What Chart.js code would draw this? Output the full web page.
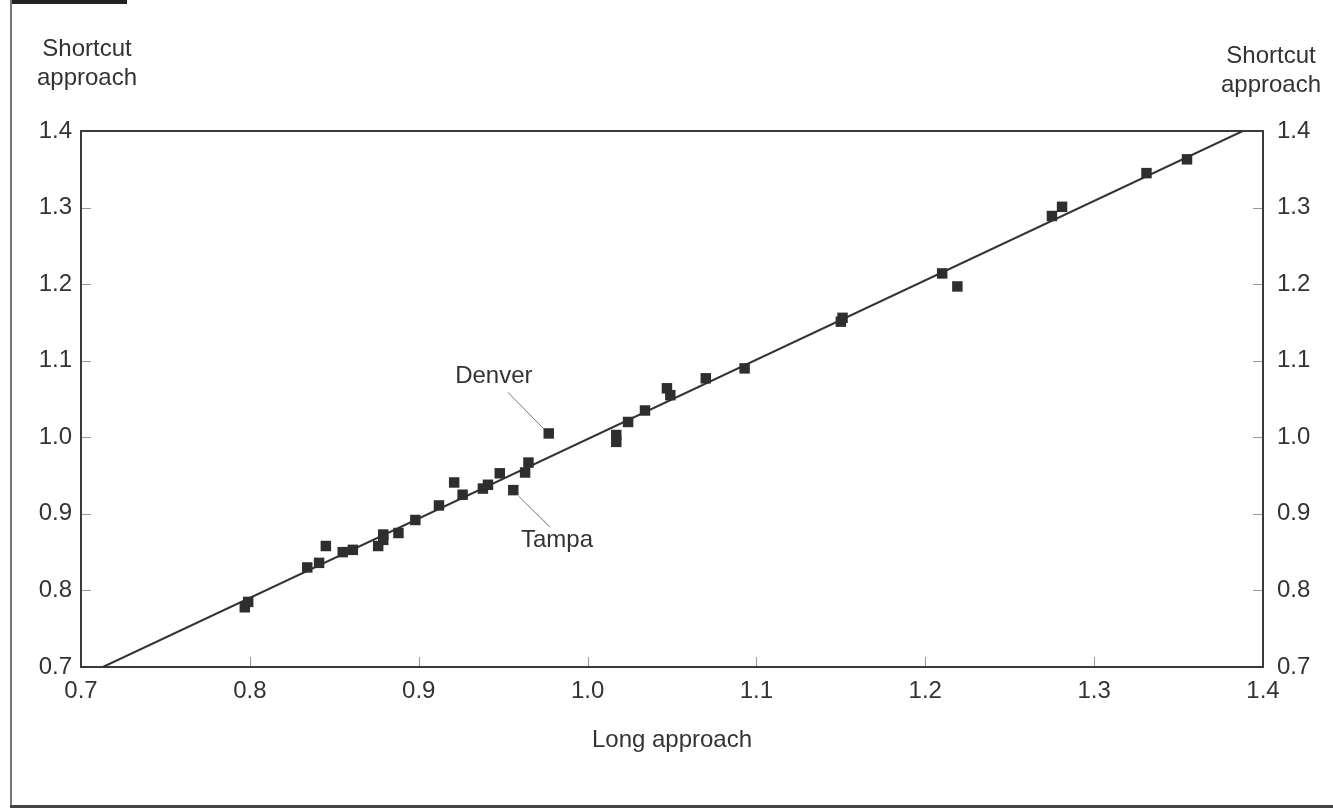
<!DOCTYPE html>
<html>
<head>
<meta charset="utf-8">
<script src="https://cdn.jsdelivr.net/npm/chart.js@4.4.0/dist/chart.umd.min.js"></script>
<style>
  html, body { margin: 0; padding: 0; background: #fff; }
  #wrap { position: relative; width: 1333px; height: 809px; overflow: hidden; background: #fff; font-family: "Liberation Sans", Arial, sans-serif; color: #333; }
  #chart { position: absolute; left: 0; top: 0; }
  .ytitle { position: absolute; font-size: 24px; line-height: 29px; text-align: center; color: #333; }
  #topbar { position: absolute; left: 11px; top: 0; width: 116px; height: 4px; background: #222; }
  #leftrule { position: absolute; left: 10px; top: 0; width: 2px; height: 807px; background: #777; }
  #bottomrule { position: absolute; left: 10px; top: 805px; width: 1323px; height: 3px; background: #444; }
</style>
</head>
<body>
<div id="wrap">
  <canvas id="chart" width="1333" height="809"></canvas>
  <div id="topbar"></div>
  <div id="leftrule"></div>
  <div id="bottomrule"></div>
  <div class="ytitle" style="left:27px; top:33px; width:120px;">Shortcut<br>approach</div>
  <div class="ytitle" style="left:1211px; top:40px; width:120px;">Shortcut<br>approach</div>
</div>
<script>
// ---- data ----
const longApproach = [0.797, 0.799, 0.834, 0.841, 0.845, 0.855, 0.861, 0.876, 0.879, 0.879,
  0.888, 0.898, 0.912, 0.921, 0.926, 0.938, 0.941, 0.948, 0.956, 0.963,
  0.965, 0.977, 1.017, 1.017, 1.024, 1.034, 1.047, 1.049, 1.070, 1.093,
  1.150, 1.151, 1.210, 1.219, 1.275, 1.281, 1.331, 1.355];
const shortcutApproach = [0.778, 0.785, 0.830, 0.836, 0.858, 0.850, 0.853, 0.858, 0.873, 0.866,
  0.875, 0.892, 0.911, 0.941, 0.925, 0.933, 0.938, 0.953, 0.931, 0.954,
  0.967, 1.005, 1.003, 0.994, 1.020, 1.035, 1.064, 1.055, 1.077, 1.090,
  1.151, 1.156, 1.214, 1.197, 1.289, 1.301, 1.345, 1.363];
const fitLineX = [0.713, 1.388];
const fitLineY = [0.700, 1.400];
const tickValues = [0.7, 0.8, 0.9, 1.0, 1.1, 1.2, 1.3, 1.4];
const calloutNames = ["Denver", "Tampa"];
const calloutLabelX = [0.9445, 0.9819];
const calloutLabelY = [1.080, 0.8657];
const leaderStartX = [0.9528, 0.9593];
const leaderStartY = [1.0588, 0.9229];
const leaderEndX = [0.9742, 0.9777];
const leaderEndY = [1.0106, 0.8826];

const FONT = "'Liberation Sans', Arial, sans-serif";
const INK = '#333';

const points = longApproach.map((x, i) => ({ x: x, y: shortcutApproach[i] }));
const fitLine = fitLineX.map((x, i) => ({ x: x, y: fitLineY[i] }));

const leaderSets = calloutNames.map((n, i) => ({
  type: 'line',
  label: n + ' leader',
  data: [{ x: leaderStartX[i], y: leaderStartY[i] }, { x: leaderEndX[i], y: leaderEndY[i] }],
  borderColor: '#777',
  borderWidth: 1,
  pointRadius: 0,
  fill: false,
  order: 3
}));

const frameAndTicks = {
  id: 'frameAndTicks',
  beforeDatasetsDraw(chart) {
    const { ctx, chartArea: a, scales } = chart;
    ctx.save();
    ctx.strokeStyle = '#999';
    ctx.lineWidth = 1;
    const TL = 10;
    tickValues.forEach(v => {
      if (v > 0.7 && v < 1.4) {
        const px = Math.round(scales.x.getPixelForValue(v)) + 0.5;
        ctx.beginPath(); ctx.moveTo(px, a.bottom); ctx.lineTo(px, a.bottom - TL); ctx.stroke();
        const py = Math.round(scales.y.getPixelForValue(v)) + 0.5;
        ctx.beginPath(); ctx.moveTo(a.left, py); ctx.lineTo(a.left + TL, py); ctx.stroke();
        const py2 = Math.round(scales.y2.getPixelForValue(v)) + 0.5;
        ctx.beginPath(); ctx.moveTo(a.right, py2); ctx.lineTo(a.right - TL, py2); ctx.stroke();
      }
    });
    ctx.strokeStyle = '#3a3a3a';
    ctx.lineWidth = 2;
    ctx.strokeRect(a.left, a.top, a.right - a.left, a.bottom - a.top);
    ctx.restore();
  },
  afterDatasetsDraw(chart) {
    const { ctx, scales } = chart;
    ctx.save();
    ctx.fillStyle = INK;
    ctx.font = '24px ' + FONT;
    ctx.textAlign = 'center';
    ctx.textBaseline = 'middle';
    calloutNames.forEach((n, i) => {
      ctx.fillText(n, scales.x.getPixelForValue(calloutLabelX[i]), scales.y.getPixelForValue(calloutLabelY[i]));
    });
    ctx.restore();
  }
};

const axisCommon = {
  type: 'linear',
  min: 0.7,
  max: 1.4,
  grid: { display: false, drawTicks: false, drawOnChartArea: false },
  border: { display: false },
};
const tickCommon = {
  stepSize: 0.1,
  color: INK,
  font: { family: FONT, size: 24 },
  callback: v => Number(v).toFixed(1)
};

new Chart(document.getElementById('chart'), {
  type: 'scatter',
  data: {
    datasets: [
      {
        label: 'Cities',
        data: points,
        pointStyle: 'rect',
        pointRadius: 7.4,
        pointHoverRadius: 7.4,
        backgroundColor: '#2e2e2e',
        borderColor: '#2e2e2e',
        borderWidth: 0,
        order: 1
      },
      {
        type: 'line',
        label: 'Fit',
        data: fitLine,
        borderColor: '#333',
        borderWidth: 2,
        pointRadius: 0,
        fill: false,
        order: 2
      },
      ...leaderSets
    ]
  },
  options: {
    responsive: false,
    animation: false,
    layout: { padding: { top: 131, left: 0, right: 0, bottom: 0 } },
    plugins: { legend: { display: false }, tooltip: { enabled: false }, title: { display: false } },
    scales: {
      x: Object.assign({}, axisCommon, {
        position: 'bottom',
        ticks: Object.assign({}, tickCommon, { padding: 10, maxRotation: 0, autoSkip: false }),
        title: { display: true, text: 'Long approach', color: INK, font: { family: FONT, size: 24 }, padding: { top: 0, bottom: 54 } },
        afterFit: s => { s.height = 142; }
      }),
      y: Object.assign({}, axisCommon, {
        position: 'left',
        ticks: Object.assign({}, tickCommon, { padding: 9 }),
        afterFit: s => { s.width = 81; }
      }),
      y2: Object.assign({}, axisCommon, {
        position: 'right',
        ticks: Object.assign({}, tickCommon, { padding: 14 }),
        afterFit: s => { s.width = 70; }
      })
    }
  },
  plugins: [frameAndTicks]
});
</script>
</body>
</html>
